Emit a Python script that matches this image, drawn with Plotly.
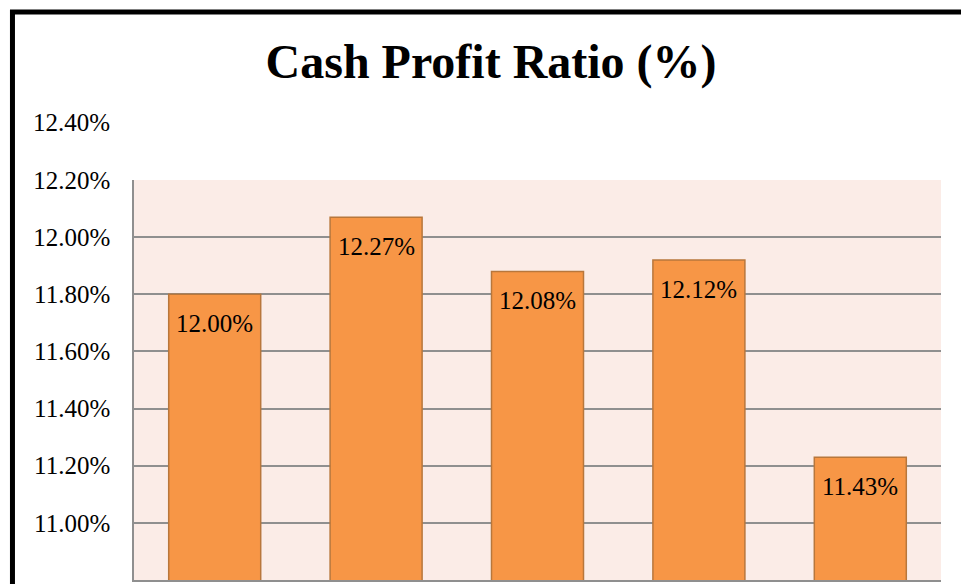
import plotly.graph_objects as go

# data (category names are cut off in the picture)
categories = ["Y1", "Y2", "Y3", "Y4", "Y5"]
ratio_values = [12.00, 12.27, 12.08, 12.12, 11.43]
bar_labels = ["12.00%", "12.27%", "12.08%", "12.12%", "11.43%"]

# the reference prints each tick label one gridline above its value
y_range = [11.0, 12.4]
grid_values = [11.2, 11.4, 11.6, 11.8, 12.0, 12.2, 12.4]
tick_labels = ["11.00%", "11.20%", "11.40%", "11.60%", "11.80%", "12.00%", "12.20%"]
top_label_value = 12.6
top_label = "12.40%"

SERIF = "Liberation Serif"
BAR_FILL = "#f79646"
BAR_EDGE = "#b8773c"
PLOT_BG = "#fbece7"
GRID = "#8f8f8f"

fig = go.Figure()

fig.add_trace(go.Bar(
    x=categories,
    y=ratio_values,
    marker=dict(color=BAR_FILL, line=dict(color=BAR_EDGE, width=1.5)),
    hoverinfo="skip",
    showlegend=False
))

# value labels just under the top of each bar
for cat, val, lab in zip(categories, ratio_values, bar_labels):
    fig.add_annotation(
        x=cat, y=val, text=lab, showarrow=False,
        yanchor="middle", yshift=-29,
        font=dict(family=SERIF, size=25, color="black")
    )

# the extra label that sits above the plot area (off-range, so placed in paper units)
top_label_y = (top_label_value - y_range[0]) / (y_range[1] - y_range[0])
fig.add_annotation(
    xref="paper", yref="paper", x=0, y=top_label_y, text=top_label,
    showarrow=False, xanchor="right", yanchor="middle", xshift=-22,
    font=dict(family=SERIF, size=25, color="black")
)

# thick black frame around the chart (runs off the right and bottom)
fig.add_shape(
    type="rect", xref="paper", yref="paper",
    x0=-0.1506, x1=1.06, y0=-0.05, y1=1.42,
    line=dict(color="black", width=5), layer="above"
)

fig.update_layout(
    width=961,
    height=584,
    title=dict(
        text="<b>Cash Profit Ratio (%)</b>",
        x=0.511, xref="container", xanchor="center",
        y=1 - 61 / 584, yref="container", yanchor="middle",
        font=dict(family=SERIF, size=48, color="black")
    ),
    margin=dict(l=134, r=20, t=180, b=4),
    paper_bgcolor="white",
    plot_bgcolor=PLOT_BG,
    bargap=0.43,
    xaxis=dict(
        type="category",
        showticklabels=False,
        showgrid=False,
        showline=True,
        linecolor=GRID,
        linewidth=1.5
    ),
    yaxis=dict(
        range=y_range,
        tickvals=grid_values,
        ticktext=tick_labels,
        tickfont=dict(family=SERIF, size=25, color="black"),
        ticklabelstandoff=17,
        showgrid=True,
        gridcolor=GRID,
        gridwidth=1.5,
        showline=True,
        linecolor=GRID,
        linewidth=1.5,
        zeroline=False
    )
)

# drop the browser's default page margin so the figure sits at 0,0
fig.write_html("out.html", config={"displayModeBar": False},
               post_script="document.body.style.margin='0';")
